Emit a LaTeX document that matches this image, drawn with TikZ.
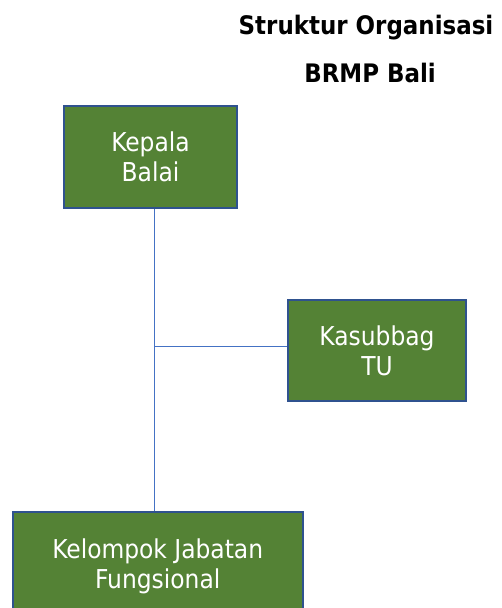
\documentclass[tikz,border=0pt]{standalone}
\usepackage{fontspec}
\setmainfont{DejaVu Sans Condensed}
\definecolor{boxgreen}{HTML}{548235}
\definecolor{boxblue}{HTML}{2F528F}
\definecolor{linkblue}{HTML}{4472C4}
\tikzset{
  orgbox/.style={draw=boxblue, line width=1.5pt, fill=boxgreen, text=white,
    align=center, font=\fontsize{26}{30}\selectfont, inner sep=0pt},
  link/.style={draw=linkblue, line width=1pt},
  titletext/.style={font=\bfseries\fontsize{25.5}{30}\selectfont, inner sep=0pt, anchor=base}
}
\begin{document}
\begin{tikzpicture}[x=1pt,y=-1pt]
\useasboundingbox (0,0) rectangle (501,608);
\clip (0,0) rectangle (501,608);
\node[titletext] (t1) at (366,34) {Struktur Organisasi};
\node[titletext] (t2) at (370,82) {BRMP Bali};
\node[orgbox, minimum width=173pt, minimum height=102pt] (kb) at (150.5,157) {Kepala\\Balai};
\node[orgbox, minimum width=178pt, minimum height=101pt] (tu) at (377,350.5) {Kasubbag\\TU};
\node[orgbox, minimum width=290pt, minimum height=110pt, anchor=north west] (kjf) at (12,511) {Kelompok Jabatan\\Fungsional};
\coordinate (j) at (154,346);
\draw[link] (kb.south -| j) -- (kjf.north -| j);
\draw[link] (j) -- (tu.west |- j);
\end{tikzpicture}
\end{document}
